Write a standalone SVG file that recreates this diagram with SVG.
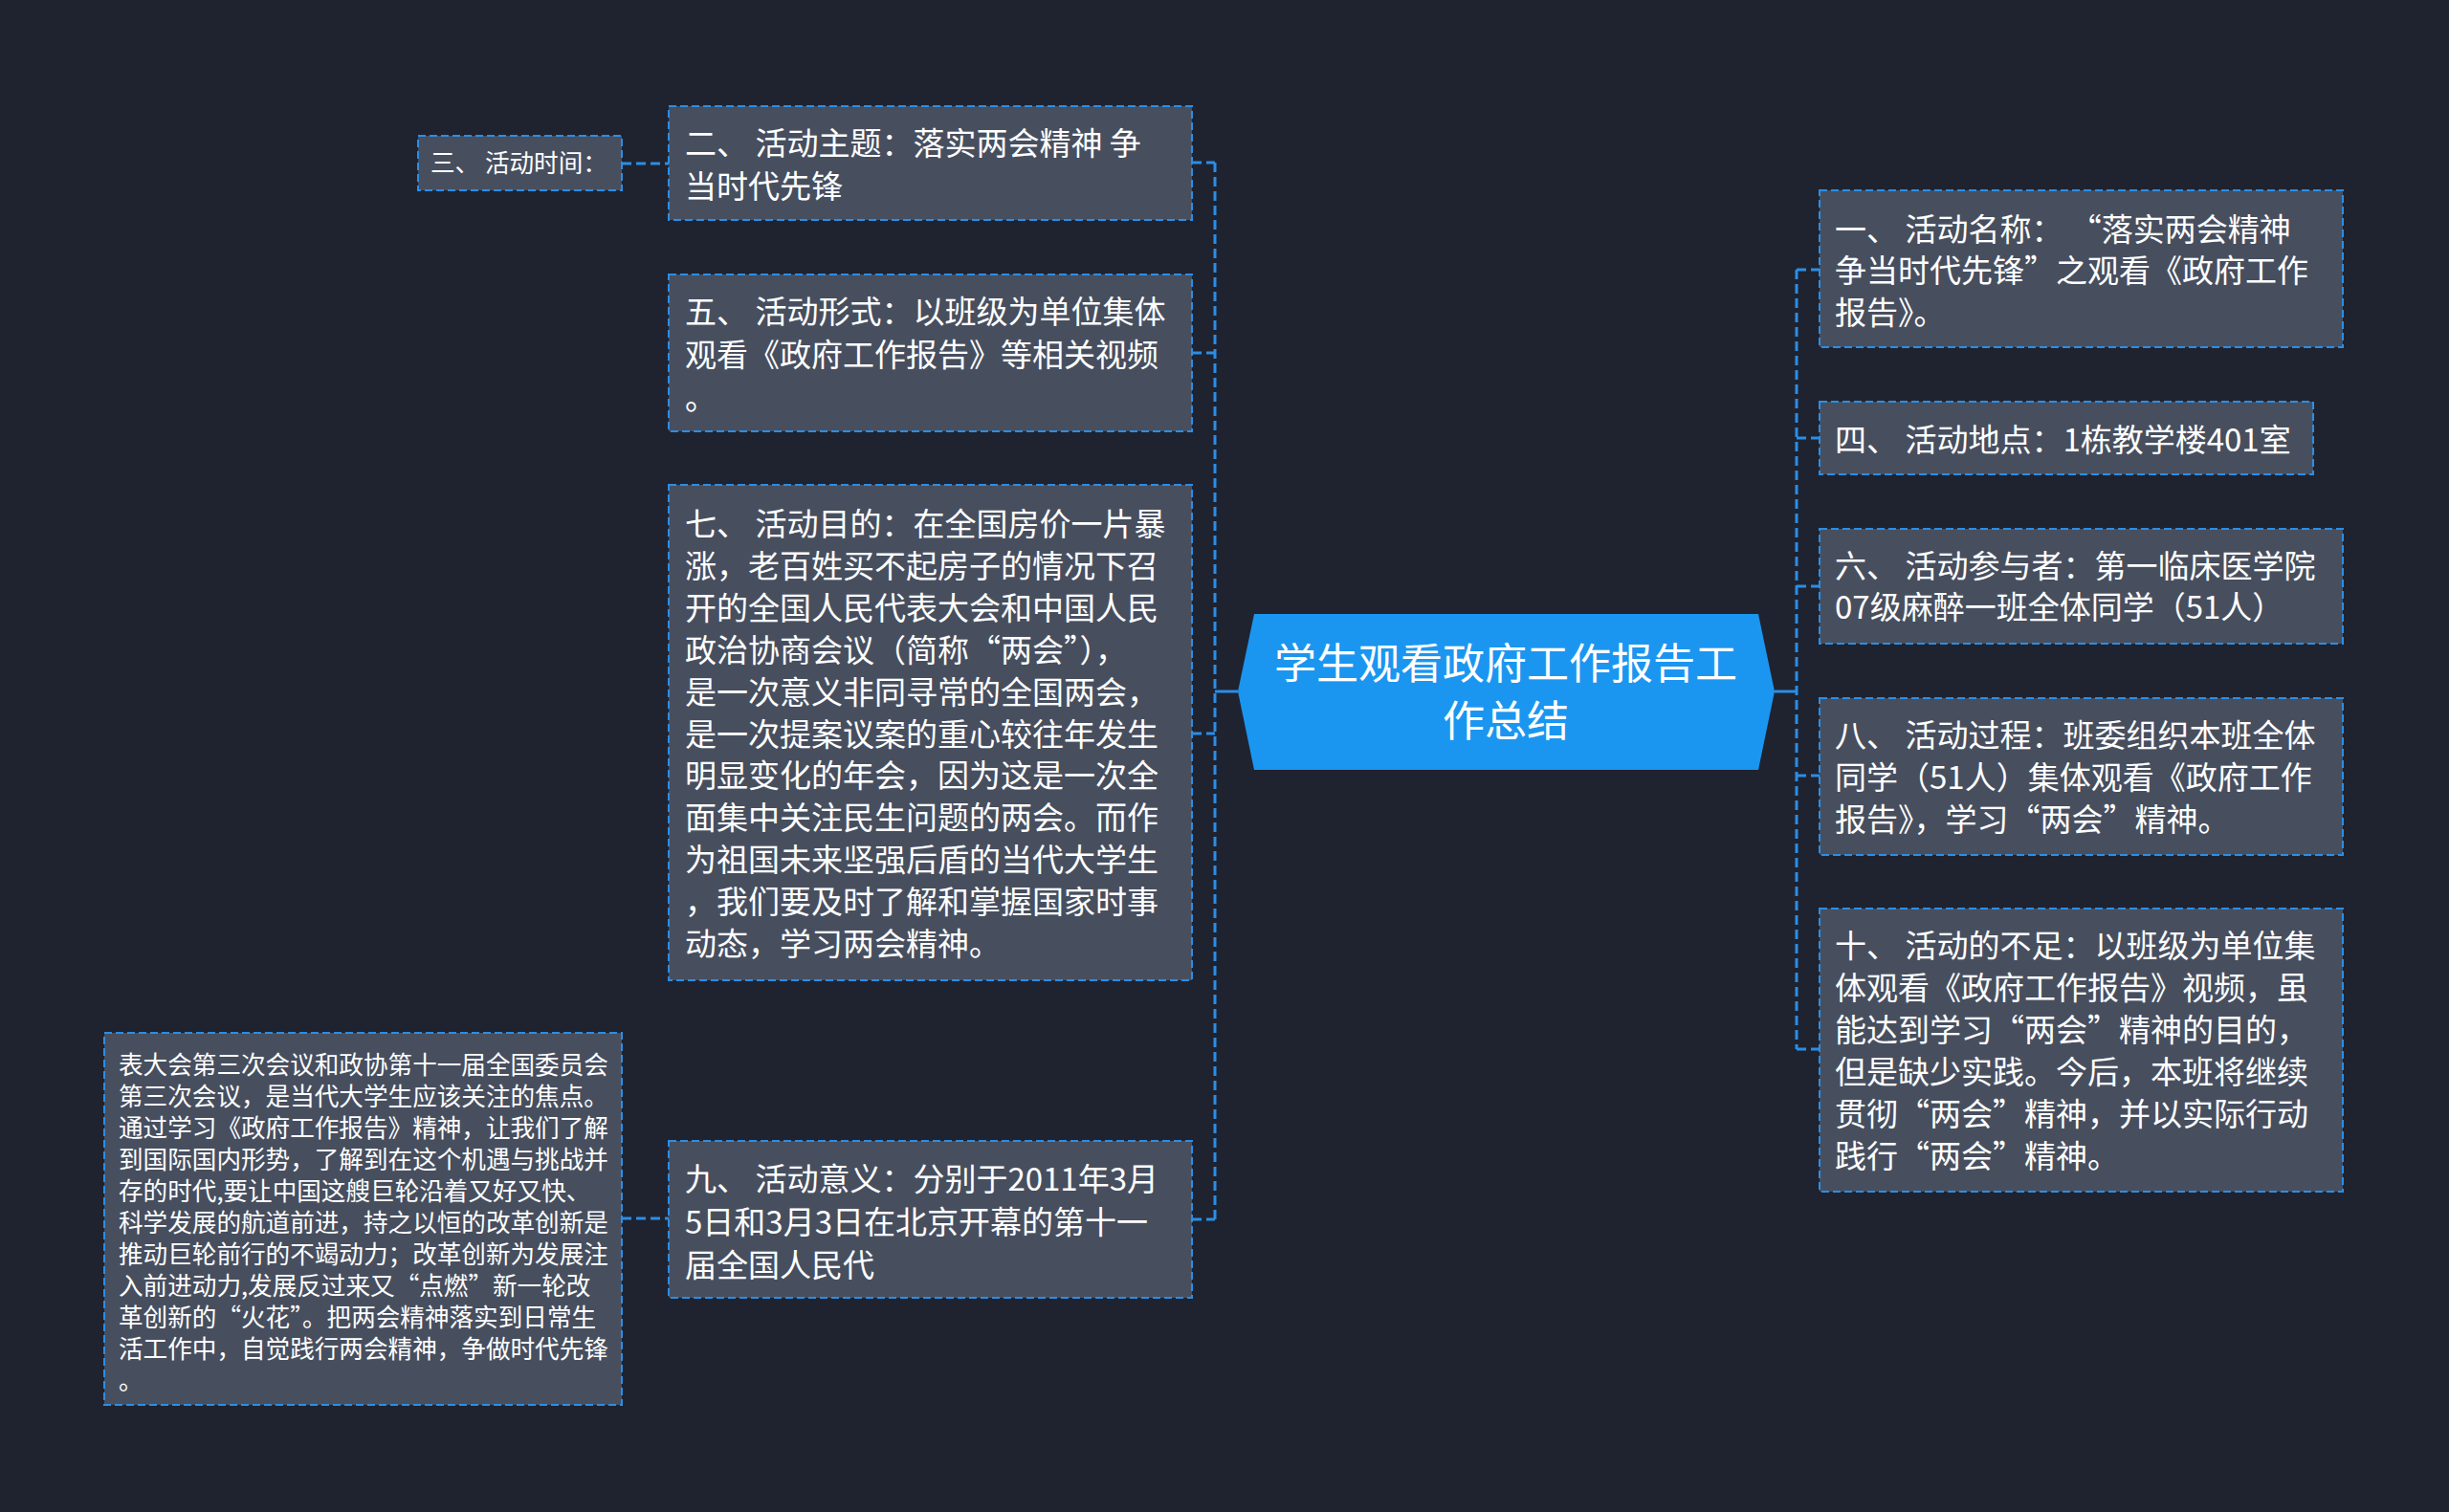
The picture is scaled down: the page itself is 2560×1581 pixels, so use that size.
<svg xmlns="http://www.w3.org/2000/svg" width="2560" height="1581" viewBox="0 0 2560 1581">
<style>
.node rect{fill:#474f5f;stroke:#2a8ee6;stroke-width:2;stroke-dasharray:8 4}
.t{fill:#ffffff;font-family:"Microsoft YaHei","Noto Sans CJK SC",sans-serif;font-size:33px}
.s{font-size:25.6px}
.c{font-size:44px;text-anchor:middle}
.conn path{fill:none;stroke:#2a8ee6;stroke-width:3;stroke-dasharray:10 5}
.conn path.solid{stroke-dasharray:none}
</style>
<rect width="2560" height="1581" fill="#1f2330"/>
<g class="conn">
<path d="M1270 170 V1275"/>
<path d="M1878 282 V1097"/>
<path class="solid" d="M1270 723 H1294"/>
<path class="solid" d="M1855 723 H1878"/>
<path d="M1246 170 H1270"/>
<path d="M1246 369 H1270"/>
<path d="M1246 767 H1270"/>
<path d="M1246 1275 H1270"/>
<path d="M650 171 H699"/>
<path d="M650 1274 H699"/>
<path d="M1878 282 H1902"/>
<path d="M1878 458 H1902"/>
<path d="M1878 613 H1902"/>
<path d="M1878 811 H1902"/>
<path d="M1878 1097 H1902"/>
</g>
<g id="center">
<polygon points="1294,723 1311,642 1838,642 1855,723 1838,805 1311,805" fill="#1b96f0"/>
<text class="t c" x="1574" y="710">学生观看政府工作报告工</text>
<text class="t c" x="1574" y="770">作总结</text>
</g>
<g id="n3" class="node">
<rect x="437" y="142" width="213" height="57"/>
<text class="t s" x="450" y="180">三、 活动时间：</text>
</g>
<g id="n2" class="node">
<rect x="699" y="111" width="547" height="119"/>
<text class="t" x="716" y="162">二、 活动主题：落实两会精神 争</text>
<text class="t" x="716" y="207">当时代先锋</text>
</g>
<g id="n5" class="node">
<rect x="699" y="287" width="547" height="164"/>
<text class="t" x="716" y="338">五、 活动形式：以班级为单位集体</text>
<text class="t" x="716" y="383">观看《政府工作报告》等相关视频</text>
<text class="t" x="716" y="428">。</text>
</g>
<g id="n7" class="node">
<rect x="699" y="507" width="547" height="518"/>
<text class="t" x="716" y="560">七、 活动目的：在全国房价一片暴</text>
<text class="t" x="716" y="604">涨，老百姓买不起房子的情况下召</text>
<text class="t" x="716" y="648">开的全国人民代表大会和中国人民</text>
<text class="t" x="716" y="692">政治协商会议（简称“两会”），</text>
<text class="t" x="716" y="736">是一次意义非同寻常的全国两会，</text>
<text class="t" x="716" y="780">是一次提案议案的重心较往年发生</text>
<text class="t" x="716" y="823">明显变化的年会，因为这是一次全</text>
<text class="t" x="716" y="867">面集中关注民生问题的两会。而作</text>
<text class="t" x="716" y="911">为祖国未来坚强后盾的当代大学生</text>
<text class="t" x="716" y="955">，我们要及时了解和掌握国家时事</text>
<text class="t" x="716" y="999">动态，学习两会精神。</text>
</g>
<g id="n9" class="node">
<rect x="699" y="1193" width="547" height="164"/>
<text class="t" x="716" y="1245">九、 活动意义：分别于2011年3月</text>
<text class="t" x="716" y="1290">5日和3月3日在北京开幕的第十一</text>
<text class="t" x="716" y="1335">届全国人民代</text>
</g>
<g id="n9a" class="node">
<rect x="109" y="1080" width="541" height="389"/>
<text class="t s" x="124" y="1123">表大会第三次会议和政协第十一届全国委员会</text>
<text class="t s" x="124" y="1156">第三次会议，是当代大学生应该关注的焦点。</text>
<text class="t s" x="124" y="1189">通过学习《政府工作报告》精神，让我们了解</text>
<text class="t s" x="124" y="1222">到国际国内形势，了解到在这个机遇与挑战并</text>
<text class="t s" x="124" y="1255">存的时代,要让中国这艘巨轮沿着又好又快、</text>
<text class="t s" x="124" y="1288">科学发展的航道前进，持之以恒的改革创新是</text>
<text class="t s" x="124" y="1321">推动巨轮前行的不竭动力；改革创新为发展注</text>
<text class="t s" x="124" y="1354">入前进动力,发展反过来又“点燃”新一轮改</text>
<text class="t s" x="124" y="1387">革创新的“火花”。把两会精神落实到日常生</text>
<text class="t s" x="124" y="1420">活工作中，自觉践行两会精神，争做时代先锋</text>
<text class="t s" x="124" y="1453">。</text>
</g>
<g id="n1" class="node">
<rect x="1902" y="199" width="547" height="164"/>
<text class="t" x="1918" y="252">一、 活动名称： “落实两会精神</text>
<text class="t" x="1918" y="295">争当时代先锋”之观看《政府工作</text>
<text class="t" x="1918" y="339">报告》。</text>
</g>
<g id="n4" class="node">
<rect x="1902" y="420" width="516" height="76"/>
<text class="t" x="1918" y="472">四、 活动地点：1栋教学楼401室</text>
</g>
<g id="n6" class="node">
<rect x="1902" y="553" width="547" height="120"/>
<text class="t" x="1918" y="604">六、 活动参与者：第一临床医学院</text>
<text class="t" x="1918" y="647">07级麻醉一班全体同学（51人）</text>
</g>
<g id="n8" class="node">
<rect x="1902" y="730" width="547" height="164"/>
<text class="t" x="1918" y="781">八、 活动过程：班委组织本班全体</text>
<text class="t" x="1918" y="825">同学（51人）集体观看《政府工作</text>
<text class="t" x="1918" y="869">报告》，学习“两会”精神。</text>
</g>
<g id="n10" class="node">
<rect x="1902" y="950" width="547" height="296"/>
<text class="t" x="1918" y="1001">十、 活动的不足：以班级为单位集</text>
<text class="t" x="1918" y="1045">体观看《政府工作报告》视频，虽</text>
<text class="t" x="1918" y="1089">能达到学习“两会”精神的目的，</text>
<text class="t" x="1918" y="1133">但是缺少实践。今后，本班将继续</text>
<text class="t" x="1918" y="1177">贯彻“两会”精神，并以实际行动</text>
<text class="t" x="1918" y="1221">践行“两会”精神。</text>
</g>
</svg>
